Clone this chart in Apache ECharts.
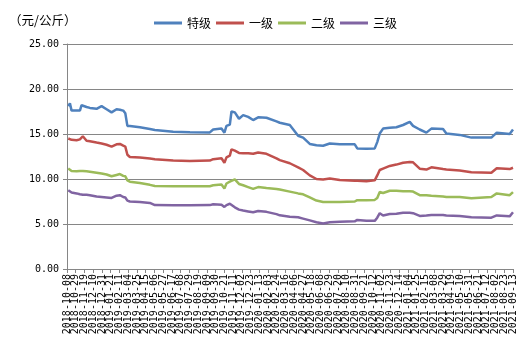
<!DOCTYPE html>
<html>
<head>
<meta charset="utf-8">
<script src="https://cdn.jsdelivr.net/npm/echarts@6/dist/echarts.min.js"></script>
<style>
  html, body { margin: 0; padding: 0; background: #fff; }
  #chart { width: 530px; height: 354px; }
</style>
</head>
<body>
<div id="chart"></div>
<script>
// daily category axis, a label every 21 days
const startDate = '2018-10-08';
const endDate = '2021-09-13';
const labelStepDays = 21;

const seriesNames = ['特级', '一级', '二级', '三级'];
const seriesColors = ['#4F81BD', '#C0504D', '#9BBB59', '#8064A2'];

const dates = [
  '2018-10-11', '2018-10-15', '2018-10-19', '2018-10-31', '2018-11-08', '2018-11-12',
  '2018-11-15', '2018-11-24', '2018-12-02', '2018-12-18', '2018-12-30', '2019-01-11',
  '2019-01-23', '2019-02-04', '2019-02-12', '2019-02-20', '2019-02-25', '2019-03-02',
  '2019-03-08', '2019-04-01', '2019-04-25', '2019-05-07', '2019-06-20', '2019-07-30',
  '2019-09-16', '2019-09-24', '2019-10-14', '2019-10-21', '2019-10-26', '2019-11-03',
  '2019-11-07', '2019-11-15', '2019-11-25', '2019-12-05', '2019-12-17', '2019-12-29',
  '2020-01-10', '2020-01-30', '2020-02-23', '2020-03-02', '2020-03-26', '2020-04-15',
  '2020-04-27', '2020-05-13', '2020-05-29', '2020-06-14', '2020-06-30', '2020-07-24',
  '2020-08-29', '2020-09-04', '2020-09-26', '2020-10-16', '2020-10-22', '2020-10-28',
  '2020-11-05', '2020-11-21', '2020-12-07', '2020-12-23', '2021-01-08', '2021-01-16',
  '2021-02-01', '2021-02-17', '2021-03-01', '2021-03-29', '2021-04-06', '2021-05-08',
  '2021-06-05', '2021-07-23', '2021-08-05', '2021-09-05', '2021-09-13',
];

const special = [
  18.1, 18.4, 17.6, 17.6, 17.6, 18.2,
  18.1, 18.0, 17.9, 17.8, 18.1, 17.75,
  17.4, 17.75, 17.7, 17.6, 17.3, 15.9,
  15.9, 15.75, 15.55, 15.45, 15.25, 15.2,
  15.18, 15.5, 15.6, 15.15, 15.9, 16.05,
  17.5, 17.4, 16.7, 17.1, 16.9, 16.55,
  16.85, 16.8, 16.4, 16.25, 16.0, 14.8,
  14.6, 13.9, 13.75, 13.7, 13.95, 13.85,
  13.85, 13.4, 13.35, 13.4, 14.1, 15.05,
  15.6, 15.7, 15.75, 16.0, 16.35, 15.9,
  15.5, 15.15, 15.6, 15.55, 15.05, 14.9,
  14.6, 14.6, 15.15, 15.0, 15.5,
];

const grade1 = [
  14.5, 14.4, 14.35, 14.3, 14.4, 14.5,
  14.75, 14.25, 14.2, 14.05, 13.95, 13.8,
  13.6, 13.85, 13.9, 13.7, 13.6, 12.7,
  12.45, 12.4, 12.28, 12.2, 12.05, 12.0,
  12.05, 12.2, 12.3, 11.8, 12.4, 12.6,
  13.3, 13.15, 12.9, 12.85, 12.85, 12.8,
  12.95, 12.8, 12.3, 12.1, 11.75, 11.3,
  11.0, 10.4, 10.0, 9.95, 10.05, 9.88,
  9.8, 9.8, 9.75, 9.85, 10.4, 11.0,
  11.15, 11.45, 11.6, 11.8, 11.9, 11.85,
  11.15, 11.05, 11.3, 11.1, 11.05, 10.95,
  10.75, 10.7, 11.2, 11.1, 11.25,
];

const grade2 = [
  11.17, 10.95, 10.9, 10.85, 10.9, 10.95,
  10.9, 10.85, 10.8, 10.7, 10.6, 10.5,
  10.3, 10.45, 10.55, 10.35, 10.3, 9.85,
  9.7, 9.55, 9.35, 9.23, 9.2, 9.2,
  9.2, 9.3, 9.4, 8.95, 9.5, 9.7,
  9.9, 9.95, 9.45, 9.3, 9.1, 8.9,
  9.1, 9.0, 8.9, 8.83, 8.6, 8.4,
  8.3, 7.95, 7.6, 7.45, 7.45, 7.45,
  7.5, 7.65, 7.65, 7.68, 7.9, 8.55,
  8.45, 8.7, 8.7, 8.65, 8.65, 8.6,
  8.2, 8.2, 8.15, 8.05, 8.0, 8.0,
  7.85, 8.0, 8.4, 8.2, 8.55,
];

const grade3 = [
  8.75, 8.6, 8.5, 8.4, 8.3, 8.3,
  8.25, 8.25, 8.2, 8.05, 8.0, 7.95,
  7.9, 8.15, 8.2, 8.0, 7.95, 7.6,
  7.5, 7.45, 7.34, 7.1, 7.08, 7.08,
  7.1, 7.2, 7.15, 6.9, 7.1, 7.25,
  7.35, 6.85, 6.6, 6.5, 6.4, 6.3,
  6.45, 6.35, 6.1, 5.96, 5.8, 5.75,
  5.6, 5.4, 5.2, 5.05, 5.2, 5.25,
  5.3, 5.45, 5.35, 5.35, 5.7, 6.2,
  5.95, 6.1, 6.15, 6.25, 6.25, 6.2,
  5.9, 5.95, 6.0, 6.0, 5.95, 5.9,
  5.75, 5.7, 5.95, 5.85, 6.3,
];

const yTicks = [0, 5, 10, 15, 20, 25];

const DAY = 86400000;
const start = Date.parse(startDate);
const end = Date.parse(endDate);
const days = [];
for (let t = start; t <= end; t += DAY) {
  days.push(new Date(t).toISOString().slice(0, 10));
}

const axisGray = '#868686';
const values = [special, grade1, grade2, grade3];

const chart = echarts.init(document.getElementById('chart'));
chart.setOption({
  animation: false,
  title: {
    text: '（元/公斤）',
    left: 4,
    top: 9,
    textStyle: {
      fontFamily: 'Noto Sans CJK SC',
      fontSize: 12.5,
      fontWeight: 'normal',
      color: '#000',
    },
  },
  legend: {
    left: 149,
    top: 12,
    icon: 'rect',
    itemWidth: 28,
    itemHeight: 3,
    itemGap: 5,
    textStyle: {
      fontFamily: 'Noto Sans CJK SC',
      fontSize: 12,
      color: '#000',
    },
    data: seriesNames,
  },
  grid: {
    left: 67,
    right: 17,
    top: 44,
    bottom: 85,
    containLabel: false,
  },
  xAxis: {
    type: 'category',
    data: days,
    boundaryGap: false,
    axisLine: { show: true, lineStyle: { color: axisGray } },
    axisTick: {
      show: true,
      length: 4,
      interval: labelStepDays - 1,
      lineStyle: { color: axisGray },
    },
    splitLine: { show: false },
    // the dense date labels are placed below as graphic texts
    axisLabel: { show: false },
  },
  yAxis: {
    type: 'value',
    min: yTicks[0],
    max: yTicks[yTicks.length - 1],
    interval: 5,
    axisLine: { show: true, lineStyle: { color: axisGray } },
    axisTick: { show: true, length: 4, lineStyle: { color: axisGray } },
    splitLine: { show: true, lineStyle: { color: axisGray, width: 1 } },
    axisLabel: {
      margin: 8,
      color: '#000',
      fontFamily: 'DejaVu Sans Mono',
      fontSize: 10,
      formatter: (v) => v.toFixed(2),
    },
  },
  series: seriesNames.map((name, i) => ({
    name,
    type: 'line',
    showSymbol: false,
    color: seriesColors[i],
    lineStyle: { color: seriesColors[i], width: 2.5 },
    data: dates.map((d, j) => [d, values[i][j]]),
  })),
});

// every 21st day gets a vertical label, positioned with the axis' own scale
const axisY = chart.convertToPixel({ yAxisIndex: 0 }, yTicks[0]);
const labelItems = [];
for (let i = 0; i < days.length; i += labelStepDays) {
  const px = chart.convertToPixel({ xAxisIndex: 0 }, days[i]);
  labelItems.push({
    type: 'text',
    x: px,
    y: axisY + 5,
    rotation: Math.PI / 2,
    silent: true,
    style: {
      text: days[i],
      fill: '#000',
      font: '10px "DejaVu Sans Mono"',
      align: 'right',
      verticalAlign: 'middle',
      textAlign: 'right',
      textVerticalAlign: 'middle',
    },
  });
}
chart.setOption({ graphic: { elements: labelItems } });
</script>
</body>
</html>
